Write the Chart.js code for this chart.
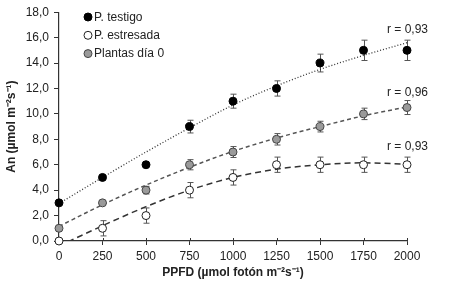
<!DOCTYPE html>
<html>
<head>
<meta charset="utf-8">
<script src="https://cdn.jsdelivr.net/npm/chart.js@4.4.1/dist/chart.umd.min.js"></script>
<style>
  html, body { margin: 0; padding: 0; background: #fff; }
  #wrap { width: 453px; height: 294px; }
</style>
</head>
<body>
<div id="wrap"><canvas id="chart" width="453" height="294"></canvas></div>
<script>
// PPFD (eje x)
const ppfd = [0, 250, 500, 750, 1000, 1250, 1500, 1750, 2000];

// valores medidos de An
const testigo = [3, 5, 6, 9, 11, 12, 14, 15, 15];
const estresada = [0, 1, 2, 4, 5, 6, 6, 6, 6];
const plantasDia0 = [1, 3, 4, 6, 7, 8, 9, 10, 10.5];

// barras de error
const errTestigo = [0, 0, 0, 0.5, 0.55, 0.6, 0.7, 0.8, 0.8];
const errEstresada = [0, 0.6, 0.6, 0.6, 0.6, 0.6, 0.6, 0.6, 0.6];
const errPlantas = [0, 0, 0.3, 0.4, 0.43, 0.45, 0.42, 0.45, 0.55];

// curvas de ajuste
const ajusteTestigo = [2.95, 5.0, 7.0, 8.9, 10.7, 12.2, 13.5, 14.6, 15.6];
const ajusteEstresada = [-0.4, 1.2, 2.7, 4.0, 5.0, 5.65, 6.0, 6.15, 6.05];
const ajustePlantas = [1.15, 2.85, 4.4, 5.8, 7.05, 8.1, 9.0, 9.85, 10.55];

// etiquetas r
const rLabels = ["r = 0,93", "r = 0,96", "r = 0,93"];
const rLabelY = [16.65, 11.7, 7.45];

const yTicks = [0, 2, 4, 6, 8, 10, 12, 14, 16, 18];

const FONT = "'Liberation Sans', Arial, Helvetica, sans-serif";

function toPoints(xs, ys) {
    return xs.map((x, i) => ({ x: x, y: ys[i] }));
}

// barras de error (se dibujan antes de los puntos)
const errorBars = {
    id: "errorBars",
    beforeDatasetsDraw(chart) {
        const ctx = chart.ctx;
        const xs = chart.scales.x;
        const ys = chart.scales.y;
        const sets = [[testigo, errTestigo], [estresada, errEstresada], [plantasDia0, errPlantas]];
        ctx.save();
        ctx.strokeStyle = "#555";
        ctx.lineWidth = 1;
        sets.forEach(([vals, errs]) => {
            vals.forEach((v, i) => {
                if (!errs[i]) return;
                const px = Math.round(xs.getPixelForValue(ppfd[i])) + 0.5;
                const top = ys.getPixelForValue(v + errs[i]);
                const bot = ys.getPixelForValue(v - errs[i]);
                ctx.beginPath();
                ctx.moveTo(px, top);
                ctx.lineTo(px, bot);
                ctx.moveTo(px - 3, top);
                ctx.lineTo(px + 3, top);
                ctx.moveTo(px - 3, bot);
                ctx.lineTo(px + 3, bot);
                ctx.stroke();
            });
        });
        ctx.restore();
    }
};

// leyenda, etiquetas r y marcas internas del eje x
const extras = {
    id: "extras",
    afterDraw(chart) {
        const ctx = chart.ctx;
        const xs = chart.scales.x;
        const ys = chart.scales.y;
        ctx.save();

        // marcas del eje x hacia dentro
        ctx.strokeStyle = "#333";
        ctx.lineWidth = 1;
        const base = ys.getPixelForValue(0);
        ppfd.forEach((v) => {
            if (v === 0) return;
            const px = Math.round(xs.getPixelForValue(v)) + 0.5;
            ctx.beginPath();
            ctx.moveTo(px, base);
            ctx.lineTo(px, base - 3);
            ctx.stroke();
        });

        // leyenda
        const items = [
            ["P. testigo", "#000", "#000"],
            ["P. estresada", "#fff", "#222"],
            ["Plantas día 0", "#9a9a9a", "#444"]
        ];
        ctx.font = "12px " + FONT;
        ctx.textBaseline = "middle";
        ctx.textAlign = "left";
        items.forEach((it, i) => {
            const y = 17 + i * 18.3;
            ctx.beginPath();
            ctx.arc(88, y, 4, 0, Math.PI * 2);
            ctx.fillStyle = it[1];
            ctx.fill();
            ctx.strokeStyle = it[2];
            ctx.lineWidth = 1;
            ctx.stroke();
            ctx.fillStyle = "#222";
            ctx.fillText(it[0], 94, y + 0.5);
        });

        // etiquetas r
        ctx.textAlign = "right";
        const rx = xs.getPixelForValue(2000) + 21;
        rLabels.forEach((t, i) => {
            ctx.fillText(t, rx, ys.getPixelForValue(rLabelY[i]));
        });
        ctx.restore();
    }
};

const trendBase = {
    showLine: true,
    pointRadius: 0,
    fill: false,
    cubicInterpolationMode: "monotone",
    order: 2,
    clip: 0
};

const pointBase = {
    showLine: false,
    pointRadius: 4,
    pointHoverRadius: 4,
    pointBorderWidth: 1,
    order: 0,
    clip: false
};

new Chart(document.getElementById("chart"), {
    type: "scatter",
    data: {
        datasets: [
            Object.assign({}, trendBase, {
                data: toPoints(ppfd, ajusteTestigo),
                borderColor: "#333",
                borderWidth: 1.3,
                borderDash: [1, 2]
            }),
            Object.assign({}, trendBase, {
                data: toPoints(ppfd, ajustePlantas),
                borderColor: "#555",
                borderWidth: 1.5,
                borderDash: [4, 3]
            }),
            Object.assign({}, trendBase, {
                data: toPoints(ppfd, ajusteEstresada),
                borderColor: "#333",
                borderWidth: 1.5,
                borderDash: [6, 4]
            }),
            Object.assign({}, pointBase, {
                label: "P. testigo",
                data: toPoints(ppfd, testigo),
                backgroundColor: "#000",
                borderColor: "#000"
            }),
            Object.assign({}, pointBase, {
                label: "P. estresada",
                data: toPoints(ppfd, estresada),
                backgroundColor: "#fff",
                borderColor: "#222"
            }),
            Object.assign({}, pointBase, {
                label: "Plantas día 0",
                data: toPoints(ppfd, plantasDia0),
                backgroundColor: "#9a9a9a",
                borderColor: "#444"
            })
        ]
    },
    options: {
        responsive: false,
        animation: false,
        events: [],
        layout: { padding: { left: 0, top: 11, right: 46, bottom: 0 } },
        plugins: {
            legend: { display: false },
            tooltip: { enabled: false }
        },
        scales: {
            x: {
                type: "linear",
                min: 0,
                max: 2000,
                afterBuildTicks: (s) => { s.ticks = ppfd.map((v) => ({ value: v })); },
                afterFit: (s) => { s.height = 53; },
                border: { color: "#333", width: 1.2 },
                grid: { drawOnChartArea: false, tickLength: 4, color: "#333", tickWidth: 1 },
                ticks: {
                    color: "#222",
                    padding: 4,
                    maxRotation: 0,
                    font: { family: FONT, size: 12 },
                    callback: (v) => String(v)
                },
                title: {
                    display: true,
                    text: "PPFD (µmol fotón m⁻²s⁻¹)",
                    color: "#222",
                    font: { family: FONT, size: 12, weight: "bold" },
                    padding: { top: 0, bottom: 14 }
                }
            },
            y: {
                min: 0,
                max: 18,
                afterBuildTicks: (s) => { s.ticks = yTicks.map((v) => ({ value: v })); },
                afterFit: (s) => { s.width = 59; },
                border: { color: "#333", width: 1.2 },
                grid: { drawOnChartArea: false, tickLength: 5, color: "#333", tickWidth: 1 },
                ticks: {
                    color: "#222",
                    padding: 5,
                    font: { family: FONT, size: 12 },
                    callback: (v) => v.toFixed(1).replace(".", ",")
                },
                title: {
                    display: true,
                    text: "An (µmol m⁻²s⁻¹)",
                    color: "#222",
                    font: { family: FONT, size: 12, weight: "bold" },
                    padding: { top: 4, bottom: 0 }
                }
            }
        }
    },
    plugins: [errorBars, extras]
});
</script>
</body>
</html>
